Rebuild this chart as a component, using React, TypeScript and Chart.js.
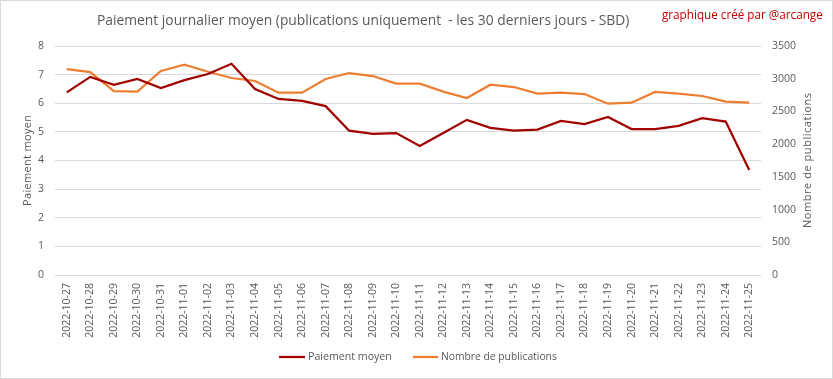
import React, { useEffect, useRef } from "react";
import { Chart, registerables } from "chart.js";

Chart.register(...registerables);

const dates = [
  "2022-10-27", "2022-10-28", "2022-10-29", "2022-10-30", "2022-10-31",
  "2022-11-01", "2022-11-02", "2022-11-03", "2022-11-04", "2022-11-05",
  "2022-11-06", "2022-11-07", "2022-11-08", "2022-11-09", "2022-11-10",
  "2022-11-11", "2022-11-12", "2022-11-13", "2022-11-14", "2022-11-15",
  "2022-11-16", "2022-11-17", "2022-11-18", "2022-11-19", "2022-11-20",
  "2022-11-21", "2022-11-22", "2022-11-23", "2022-11-24", "2022-11-25",
];

const paiementMoyen = [
  6.38, 6.92, 6.64, 6.85, 6.53, 6.81, 7.02, 7.38, 6.5, 6.15,
  6.08, 5.9, 5.04, 4.93, 4.96, 4.51, 4.96, 5.42, 5.14, 5.04,
  5.08, 5.38, 5.27, 5.52, 5.1, 5.1, 5.21, 5.48, 5.36, 3.67,
];

const nombrePublications = [
  3148, 3102, 2812, 2802, 3118, 3215, 3107, 3011, 2965, 2787,
  2787, 2996, 3087, 3041, 2925, 2925, 2802, 2705, 2909, 2873,
  2771, 2787, 2766, 2618, 2634, 2797, 2771, 2736, 2649, 2634,
];

const leftTicks = [0, 1, 2, 3, 4, 5, 6, 7, 8];
const rightTicks = [0, 500, 1000, 1500, 2000, 2500, 3000, 3500];

const titleText = "Paiement journalier moyen (publications uniquement  - les 30 derniers jours - SBD)";
const creditText = "graphique créé par @arcange";
const leftTitle = "Paiement moyen";
const rightTitle = "Nombre de publications";
const seriesNames = ["Paiement moyen", "Nombre de publications"];

const DARK = "#a00000";
const ORANGE = "#ed7d31";
const GRAY = "#595959";
const GRID = "#d9d9d9";
const FAMILY = "'Open Sans', sans-serif";

function fitFont(ctx: CanvasRenderingContext2D, text: string, target: number, base: number) {
  ctx.font = `${base}px ${FAMILY}`;
  const w = ctx.measureText(text).width;
  return base * (target / w);
}

function drawSpaced(ctx: any, text: string, x: number, y: number, size: number, target: number) {
  ctx.font = `${size}px ${FAMILY}`;
  const w = ctx.measureText(text).width;
  const extra = (target - w) / Math.max(1, text.length - 1);
  if ("letterSpacing" in ctx) {
    ctx.letterSpacing = `${extra}px`;
    ctx.fillText(text, x + extra / 2, y);
    ctx.letterSpacing = "0px";
  } else {
    ctx.fillText(text, x, y);
  }
}

const extras = {
  id: "extras",
  afterDraw(chart: any) {
    const ctx: CanvasRenderingContext2D = chart.ctx;
    const ca = chart.chartArea;
    ctx.save();
    ctx.strokeStyle = GRID;
    ctx.lineWidth = 1;
    ctx.strokeRect(0.5, 0.5, chart.width - 1, chart.height - 1);

    ctx.textBaseline = "middle";
    let s = fitFont(ctx, titleText, 533, 14);
    ctx.font = `${s}px ${FAMILY}`;
    ctx.fillStyle = GRAY;
    ctx.textAlign = "left";
    ctx.fillText(titleText, 97, 21);

    s = fitFont(ctx, creditText, 161, 12);
    ctx.font = `${s}px ${FAMILY}`;
    ctx.fillStyle = "#c00000";
    ctx.fillText(creditText, 662, 16);

    const midY = (ca.top + ca.bottom) / 2;
    ctx.fillStyle = GRAY;
    ctx.textAlign = "center";
    ctx.save();
    ctx.translate(28, midY);
    ctx.rotate(-Math.PI / 2);
    drawSpaced(ctx, leftTitle, 0, 0, 11, 91);
    ctx.restore();

    ctx.save();
    ctx.translate(808, midY);
    ctx.rotate(-Math.PI / 2);
    drawSpaced(ctx, rightTitle, 0, 0, 11, 135);
    ctx.restore();

    const ly = 357;
    const items = [
      { name: seriesNames[0], color: DARK, x0: 279, x1: 305, tx: 308, w: 84 },
      { name: seriesNames[1], color: ORANGE, x0: 413, x1: 438, tx: 441, w: 116 },
    ];
    ctx.textAlign = "left";
    items.forEach((it) => {
      ctx.strokeStyle = it.color;
      ctx.lineWidth = 2.25;
      ctx.beginPath();
      ctx.moveTo(it.x0, ly);
      ctx.lineTo(it.x1, ly);
      ctx.stroke();
      const fs = fitFont(ctx, it.name, it.w, 11);
      ctx.font = `${fs}px ${FAMILY}`;
      ctx.fillStyle = GRAY;
      ctx.fillText(it.name, it.tx, ly);
    });
    ctx.restore();
  },
};

export default function App() {
  const ref = useRef<HTMLCanvasElement | null>(null);

  useEffect(() => {
    document.body.style.margin = "0";
    const canvas = ref.current;
    if (!canvas) return;
    const chart = new Chart(canvas, {
      type: "line",
      data: {
        labels: dates,
        datasets: [
          {
            label: seriesNames[0],
            data: paiementMoyen,
            borderColor: DARK,
            backgroundColor: DARK,
            borderWidth: 2.25,
            pointRadius: 0,
            tension: 0,
            yAxisID: "y",
            order: 1,
          },
          {
            label: seriesNames[1],
            data: nombrePublications,
            borderColor: ORANGE,
            backgroundColor: ORANGE,
            borderWidth: 2.25,
            pointRadius: 0,
            tension: 0,
            yAxisID: "y1",
            order: 2,
          },
        ],
      },
      options: {
        responsive: false,
        animation: false,
        devicePixelRatio: 1,
        layout: { padding: { top: 46, left: 0, right: 0, bottom: 0 } },
        plugins: {
          legend: { display: false },
          title: { display: false },
          tooltip: { enabled: false },
        },
        scales: {
          x: {
            offset: true,
            grid: { display: false, drawTicks: false },
            border: { display: false },
            ticks: {
              autoSkip: false,
              minRotation: 90,
              maxRotation: 90,
              padding: 8,
              color: GRAY,
              font: { family: FAMILY, size: 10.5 },
            },
            afterFit: (scale: any) => {
              scale.height = 104;
            },
          },
          y: {
            position: "left",
            min: 0,
            max: 8,
            afterBuildTicks: (scale: any) => {
              scale.ticks = leftTicks.map((v) => ({ value: v }));
            },
            grid: { color: GRID, lineWidth: 1, drawTicks: false },
            border: { display: false },
            ticks: {
              padding: 11,
              color: GRAY,
              font: { family: FAMILY, size: 10.5 },
              callback: (v: any) => String(v),
            },
            afterFit: (scale: any) => {
              scale.width = 55;
            },
          },
          y1: {
            position: "right",
            min: 0,
            max: 3500,
            afterBuildTicks: (scale: any) => {
              scale.ticks = rightTicks.map((v) => ({ value: v }));
            },
            grid: { display: false, drawTicks: false },
            border: { display: false },
            ticks: {
              padding: 11,
              color: GRAY,
              font: { family: FAMILY, size: 10.5 },
              callback: (v: any) => String(v),
            },
            afterFit: (scale: any) => {
              scale.width = 72;
            },
          },
        },
      },
      plugins: [extras],
    });
    return () => chart.destroy();
  }, []);

  return (
    <div style={{ position: "fixed", left: 0, top: 0, width: 833, height: 379, background: "#fff" }}>
      <canvas ref={ref} width={833} height={379} style={{ display: "block" }} />
    </div>
  );
}
